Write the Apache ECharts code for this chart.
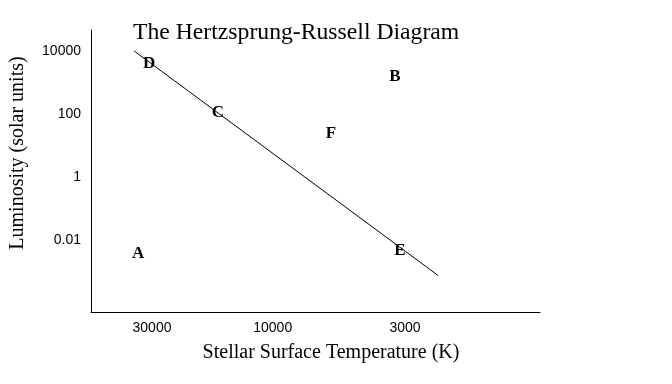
<!DOCTYPE html>
<html><head><meta charset="utf-8">
<script src="https://cdn.jsdelivr.net/npm/echarts@6/dist/echarts.min.js"></script>
<style>html,body{margin:0;padding:0;background:#fff}#c{width:672px;height:384px}</style>
</head><body><div id="c"></div>
<script>
// Star labels: temperature (K), luminosity (solar units)
var starNames = ['A', 'B', 'C', 'D', 'E', 'F'];
var starTemps = [34000, 3290, 16450, 30800, 3140, 5890];
var starLums  = [0.0041, 1790, 127, 4630, 0.0051, 27.3];
// Main-sequence line endpoints
var lineTemps = [35300, 2220];
var lineLums  = [10400, 0.00074];
// Tick labels
var xTicks = [30000, 10000, 3000];
var yTicks = [10000, 100, 1, 0.01];

var serif = '"Liberation Serif", "Times New Roman", serif';
var sans = '"Liberation Sans", Arial, sans-serif';
function fmt(v){ return String(Number(v.toPrecision(6))); }

var chart = echarts.init(document.getElementById('c'), null, {renderer:'canvas'});
chart.setOption({
  backgroundColor: '#fff',
  animation: false,
  title: {
    text: 'The Hertzsprung-Russell Diagram',
    left: 128, top: 16,
    textStyle: {fontFamily: serif, fontSize: 23.7, fontWeight: 'normal', color: '#000'}
  },
  grid: {left: 91, right: 132, top: 30, bottom: 72, containLabel: false},
  xAxis: {
    type: 'log', inverse: true, min: 878, max: 52260, logBase: 10,
    axisLine: {show: true, lineStyle: {color: '#000', width: 1}},
    axisTick: {show: false},
    splitLine: {show: false},
    axisLabel: {customValues: xTicks, formatter: fmt, margin: 9,
      fontFamily: sans, fontSize: 14, color: '#000'}
  },
  yAxis: {
    type: 'log', min: Math.pow(10, -4.296), max: Math.pow(10, 4.685), logBase: 10,
    axisLine: {show: true, lineStyle: {color: '#000', width: 1}},
    axisTick: {show: false},
    splitLine: {show: false},
    axisLabel: {customValues: yTicks, formatter: fmt, margin: 10,
      fontFamily: sans, fontSize: 14, color: '#000'}
  },
  graphic: [
    {type: 'text', x: 18, y: 153, rotation: Math.PI / 2,
      style: {text: 'Luminosity (solar units)', font: '20px ' + serif, fill: '#000',
        textAlign: 'center', textVerticalAlign: 'middle'}},
    {type: 'text', x: 331, y: 353,
      style: {text: 'Stellar Surface Temperature (K)', font: '20px ' + serif, fill: '#000',
        textAlign: 'center', textVerticalAlign: 'middle'}}
  ],
  series: [
    {type: 'line', data: lineTemps.map(function(t, i){ return [t, lineLums[i]]; }),
      symbol: 'none', lineStyle: {color: '#000', width: 1}, silent: true, z: 1},
    {type: 'scatter', data: starTemps.map(function(t, i){ return [t, starLums[i], starNames[i]]; }),
      symbolSize: 1, itemStyle: {color: 'rgba(0,0,0,0)'}, z: 3,
      label: {show: true, position: 'inside', offset: [0, 1.5],
        formatter: function(p){ return p.data[2]; },
        fontFamily: serif, fontSize: 17, fontWeight: 'bold', color: '#000',
        textBorderWidth: 0, textBorderColor: 'transparent', opacity: 1}}
  ]
});
</script></body></html>
